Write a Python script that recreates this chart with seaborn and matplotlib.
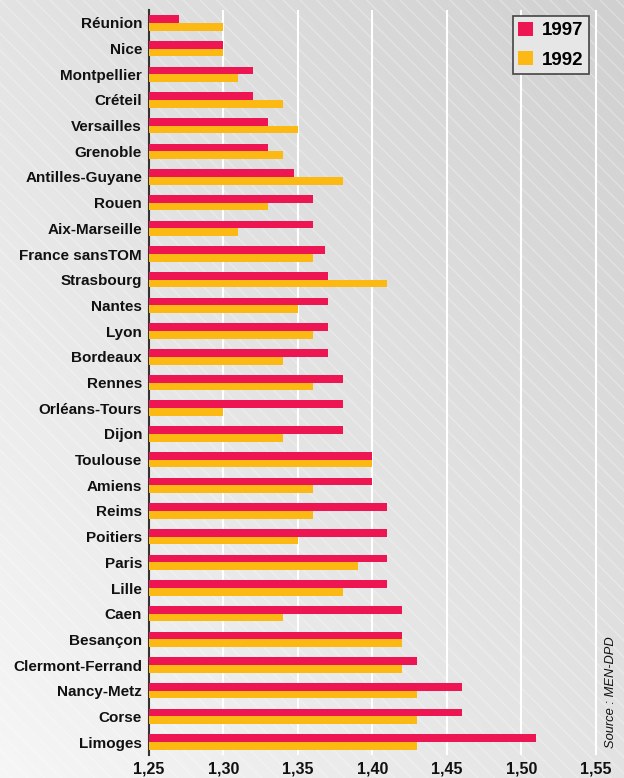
import numpy as np
import pandas as pd
import matplotlib
matplotlib.use("Agg")
import matplotlib.pyplot as plt
from matplotlib.patches import Rectangle, Patch
from matplotlib.ticker import FuncFormatter, FixedLocator
import seaborn as sns

regions = ["Réunion", "Nice", "Montpellier", "Créteil", "Versailles", "Grenoble",
           "Antilles-Guyane", "Rouen", "Aix-Marseille", "France sansTOM", "Strasbourg",
           "Nantes", "Lyon", "Bordeaux", "Rennes", "Orléans-Tours", "Dijon", "Toulouse",
           "Amiens", "Reims", "Poitiers", "Paris", "Lille", "Caen", "Besançon",
           "Clermont-Ferrand", "Nancy-Metz", "Corse", "Limoges"]
v1997 = [1.27, 1.30, 1.32, 1.32, 1.33, 1.33, 1.347, 1.36, 1.36, 1.368, 1.37,
         1.37, 1.37, 1.37, 1.38, 1.38, 1.38, 1.40, 1.40, 1.41, 1.41, 1.41, 1.41,
         1.42, 1.42, 1.43, 1.46, 1.46, 1.51]
v1992 = [1.30, 1.30, 1.31, 1.34, 1.35, 1.34, 1.38, 1.33, 1.31, 1.36, 1.41,
         1.35, 1.36, 1.34, 1.36, 1.30, 1.34, 1.40, 1.36, 1.36, 1.35, 1.39, 1.38,
         1.34, 1.42, 1.42, 1.43, 1.43, 1.43]
years = ["1997", "1992"]
colors = {"1997": "#EE1652", "1992": "#FDB913"}
xticks = [1.25, 1.30, 1.35, 1.40, 1.45, 1.50, 1.55]

df = pd.DataFrame({
    "region": regions * 2,
    "value": v1997 + v1992,
    "year": ["1997"] * len(regions) + ["1992"] * len(regions),
})

W, H = 624, 778
fig = plt.figure(figsize=(W / 100, H / 100), dpi=100)

# background gradient with diagonal hatch
bg = fig.add_axes([0, 0, 1, 1], zorder=0)
xx, yy = np.meshgrid(np.linspace(0, 1, 300), np.linspace(0, 1, 300))
t = (xx + yy) / 2  # yy=0 is bottom with origin='lower'
grey = (246 - 38 * t) / 255
bg.imshow(np.dstack([grey, grey, grey]), origin="lower", extent=[0, 1, 0, 1],
          aspect="auto")
bg.add_patch(Rectangle((0, 0), 1, 1, facecolor="none",
                       edgecolor=(1, 1, 1, 0.3), hatch="\\\\", lw=0))
bg.set_xlim(0, 1); bg.set_ylim(0, 1)
bg.axis("off")

left, right, top, bottom = 149, 620, 10, 755
ax = fig.add_axes([left / W, (H - bottom) / H, (right - left) / W, (bottom - top) / H],
                  zorder=1)
ax.set_facecolor("none")

sns.barplot(data=df, y="region", x="value", hue="year", hue_order=years,
            order=regions, orient="h", palette=colors, width=0.6,
            saturation=1, ax=ax, zorder=3, legend=False)

ax.set_xlim(1.25, 1.25 + (right - left) / 1490)
ax.xaxis.set_major_locator(FixedLocator(xticks))
ax.xaxis.set_major_formatter(FuncFormatter(lambda v, p: f"{v:.2f}".replace(".", ",")))
for xv in xticks[1:]:
    ax.axvline(xv, color="white", lw=1.5, zorder=1)

ax.set_xlabel("")
ax.set_ylabel("")
for s in ["top", "right", "bottom"]:
    ax.spines[s].set_visible(False)
ax.spines["left"].set_color("#333333")
ax.spines["left"].set_linewidth(1.5)
ax.tick_params(axis="both", length=0)
ax.tick_params(axis="y", pad=5)
ax.tick_params(axis="x", pad=5)
for lab in ax.get_yticklabels():
    lab.set_fontfamily("Liberation Sans")
    lab.set_fontweight("bold")
    lab.set_fontsize(11)
    lab.set_color("#111111")
for lab in ax.get_xticklabels():
    lab.set_fontfamily("Liberation Sans")
    lab.set_fontweight("bold")
    lab.set_fontsize(11.5)
    lab.set_color("#111111")

handles = [Patch(facecolor=colors[y], edgecolor="none") for y in years]
leg = ax.legend(handles, years, loc="upper right",
                bbox_to_anchor=(589 / W, (H - 16) / H), bbox_transform=fig.transFigure,
                prop={"family": "Liberation Sans", "weight": "bold", "size": 13.5},
                handlelength=0.8, handleheight=0.8, handletextpad=0.45,
                labelspacing=0.62, borderpad=0.3, borderaxespad=0,
                fancybox=False, framealpha=1)
leg.get_frame().set_facecolor("#e6e6e6")
leg.get_frame().set_edgecolor("#444444")
leg.get_frame().set_linewidth(1.2)
leg.set_zorder(5)

fig.text(611 / W, (H - 692) / H, "Source : MEN-DPD", rotation=90, ha="center",
         va="center", fontsize=9.3, style="italic", family="Liberation Sans",
         color="#111111")

fig.savefig("out.png", dpi=100)
